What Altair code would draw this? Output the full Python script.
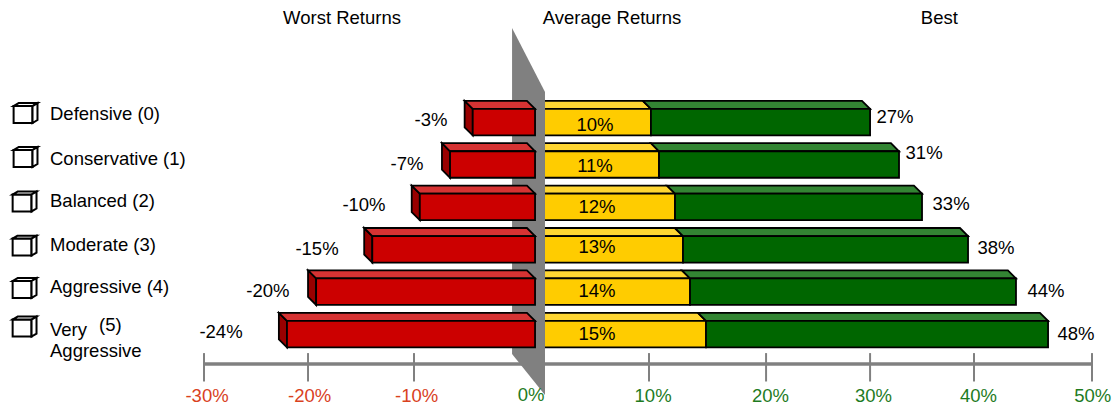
import altair as alt
import pandas as pd

# ---- (x in chart percent units, y in row units) ----
profiles = ["Defensive (0)", "Conservative (1)", "Balanced (2)", "Moderate (3)", "Aggressive (4)", "Very"]
worst_labels = ["-3%", "-7%", "-10%", "-15%", "-20%", "-24%"]
avg_labels = ["10%", "11%", "12%", "13%", "14%", "15%"]
best_labels = ["27%", "31%", "33%", "38%", "44%", "48%"]
worst_ends = [-6.6, -8.7, -11.5, -15.9, -21.1, -23.8]
avg_ends = [9.9, 10.65, 12.13, 12.87, 13.52, 15.0]
best_ends = [30.19, 32.87, 35.0, 39.26, 43.7, 46.67]
tick_values = [-31.48, -21.85, -12.04, 9.72, 20.56, 30.19, 39.81, 50.74]
tick_texts_neg = ["-30%", "-20%", "-10%"]
tick_texts_pos = ["10%", "20%", "30%", "40%", "50%"]

worst_lx = [-10.46, -12.69, -16.67, -21.02, -25.56, -29.91]
worst_ly = [-0.05, 0.99, 1.96, 3.0, 3.99, 4.95]
best_lx = [32.5, 35.19, 37.69, 41.85, 46.48, 49.26]
best_ly = [-0.12, 0.73, 1.93, 2.97, 3.99, 5.0]
avg_lx = [4.72, 4.72, 4.91, 4.91, 4.91, 4.91]
avg_ly = [0.07, 1.04, 2.0, 2.95, 3.99, 5.0]
legend_ly = [-0.19, 0.87, 1.86, 2.9, 3.89, 4.91]
cube_top = [-0.377, 0.66, 1.71, 2.75, 3.75, 4.66]
cube_left = [-49.11, -49.11, -49.2, -49.2, -49.2, -49.2]

# geometry of the drawing
RIGHT_START = 0.0
RED_START = -0.83
DX = 0.75   # depth in x units
DY = 0.19   # depth in row units
H = 0.625   # front height in row units
TOP = -0.31 # front top relative to row centre

X = alt.X("x:Q", axis=None, scale=alt.Scale(domain=[-49.63, 52.59], nice=False, zero=False))
Y = alt.Y("y:Q", axis=None, scale=alt.Scale(domain=[-2.689, 6.698], nice=False, zero=False, reverse=True))
LINE = dict(stroke="#000000", strokeWidth=1.8, strokeJoin="miter")
CUBE = dict(stroke="#000000", strokeWidth=2, strokeJoin="miter")


def front(x0s, x1s, color):
    d = pd.DataFrame({"x": x0s, "x2": x1s, "y": [r + TOP for r in range(6)], "y2": [r + TOP + H for r in range(6)]})
    return alt.Chart(d).mark_rect(fill=color, **LINE).encode(X, alt.X2("x2:Q"), Y, alt.Y2("y2:Q"))


def top_face(x0s, x1s, color, back_left=None):
    rows = []
    for r in range(6):
        ft = r + TOP
        bl = back_left[r] if back_left else x0s[r] - DX
        rows.append(dict(row=r, y=ft - DY, x=bl, x2=x1s[r] - DX))
        rows.append(dict(row=r, y=ft, x=x0s[r], x2=x1s[r]))
    return (alt.Chart(pd.DataFrame(rows)).mark_area(orient="horizontal", fill=color, **LINE)
            .encode(X, alt.X2("x2:Q"), Y, detail="row:N"))


def side_face(xs, color):
    rows = []
    for r in range(6):
        ft = r + TOP
        rows.append(dict(row=r, x=xs[r] - DX, y=ft - DY, y2=ft - DY + H))
        rows.append(dict(row=r, x=xs[r], y=ft, y2=ft + H))
    return (alt.Chart(pd.DataFrame(rows)).mark_area(orient="vertical", fill=color, **LINE)
            .encode(X, Y, alt.Y2("y2:Q"), detail="row:N"))


def labels(texts, xs, ys, color="#000000", size=18.5, align="center"):
    d = pd.DataFrame({"t": texts, "x": xs, "y": ys})
    return alt.Chart(d).mark_text(font="Liberation Sans", fontSize=size, color=color, align=align,
                                  baseline="middle").encode(X, Y, text="t:N")


zeros = [RIGHT_START] * 6
reds = [RED_START] * 6

wall = alt.Chart(pd.DataFrame({"x": [-2.96, 0.09], "y": [-2.217, -0.708], "y2": [5.47, 6.44]})).mark_area(
    orient="vertical", fill="#808080", stroke=None).encode(X, Y, alt.Y2("y2:Q"))

axis_line = alt.Chart(pd.DataFrame({"x": [tick_values[0]], "x2": [tick_values[-1]], "y": [5.71]})).mark_rule(
    color="#808080", strokeWidth=3.5).encode(X, alt.X2("x2:Q"), Y)
tick_rules = alt.Chart(pd.DataFrame({"x": tick_values, "y": [5.45] * 8, "y2": [6.12] * 8})).mark_rule(
    color="#808080", strokeWidth=2).encode(X, Y, alt.Y2("y2:Q"))

cube_w = 1.75
cube_h = 0.40
cdx = 0.46
cdy = 0.07
cube_front = alt.Chart(pd.DataFrame({
    "x": cube_left, "x2": [c + cube_w for c in cube_left],
    "y": cube_top, "y2": [c + cube_h for c in cube_top]})).mark_rect(fill="#ffffff", **CUBE).encode(X, alt.X2("x2:Q"), Y, alt.Y2("y2:Q"))
ct_rows, cs_rows = [], []
for r in range(6):
    l, t = cube_left[r], cube_top[r]
    ct_rows += [dict(row=r, y=t - cdy, x=l + cdx, x2=l + cube_w + cdx), dict(row=r, y=t, x=l, x2=l + cube_w)]
    cs_rows += [dict(row=r, x=l + cube_w, y=t, y2=t + cube_h), dict(row=r, x=l + cube_w + cdx, y=t - cdy, y2=t - cdy + cube_h)]
cube_topf = alt.Chart(pd.DataFrame(ct_rows)).mark_area(orient="horizontal", fill="#ffffff", **CUBE).encode(X, alt.X2("x2:Q"), Y, detail="row:N")
cube_side = alt.Chart(pd.DataFrame(cs_rows)).mark_area(orient="vertical", fill="#ffffff", **CUBE).encode(X, Y, alt.Y2("y2:Q"), detail="row:N")

chart = alt.layer(
    axis_line, tick_rules,
    top_face(zeros, avg_ends, "#FFD633", back_left=zeros),
    front(zeros, avg_ends, "#FFCC00"),
    top_face(avg_ends, best_ends, "#338533"),
    front(avg_ends, best_ends, "#006600"),
    wall,
    side_face(worst_ends, "#990000"),
    top_face(worst_ends, reds, "#D63333"),
    front(worst_ends, reds, "#CC0000"),
    cube_front, cube_topf, cube_side,
    labels(["Worst Returns", "Average Returns", "Best"], [-18.7, 6.3, 36.6], [-2.45] * 3),
    labels(worst_labels, worst_lx, worst_ly),
    labels(best_labels, best_lx, best_ly),
    labels(avg_labels, avg_lx, avg_ly),
    labels(profiles, [-45.74] * 6, legend_ly, align="left"),
    labels(["(5)"], [-41.2], [4.79], align="left"),
    labels(["Aggressive"], [-45.74], [5.4], align="left"),
    labels(tick_texts_neg, [-31.2, -21.7, -11.8], [6.46] * 3, color="#D9411E"),
    labels(["0%"], [-1.2], [6.44], color="#1E7B1E"),
    labels(tick_texts_pos, [10.1, 20.97, 30.5, 40.23, 50.8], [6.46] * 5, color="#1E7B1E"),
).properties(
    width=1104, height=398, padding=0,
    autosize=alt.AutoSizeParams(type="none"), background="#ffffff",
).configure_view(stroke=None)

chart.save("out.html", embed_options={"renderer": "svg", "actions": False})
